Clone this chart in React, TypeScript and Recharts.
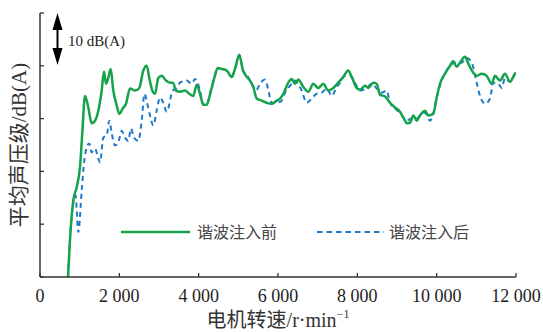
import React from 'react';
import { LineChart, Line, XAxis, YAxis } from 'recharts';

// 谐波注入前 (before injection)
const rpmBefore = [
  706, 756, 839, 925, 1008, 1066, 1134, 1218, 1303, 1387, 1470, 1555, 1613, 1664, 1722, 1782,
  1848, 1934, 1999, 2085, 2168, 2269, 2395, 2503, 2604, 2690, 2755, 2816, 2899, 2982, 3068,
  3176, 3277, 3353, 3429, 3529, 3655, 3764, 3865, 3950, 4034, 4117, 4202, 4303, 4394, 4480,
  4581, 4707, 4833, 4923, 5024, 5118, 5193, 5294, 5377, 5463, 5589, 5715, 5836, 5967, 6050,
  6134, 6260, 6345, 6429, 6512, 6638, 6764, 6890, 7016, 7142, 7268, 7394, 7520, 7646, 7772,
  7858, 7984, 8067, 8193, 8277, 8402, 8488, 8571, 8697, 8824, 8950, 9076, 9202, 9245, 9328,
  9411, 9497, 9580, 9706, 9789, 9915, 10001, 10084, 10210, 10336, 10419, 10505, 10588, 10714,
  10797, 10923, 11009, 11135, 11261, 11387, 11471, 11597, 11723, 11849, 11975, 12000,
];
const dbBefore = [
  0, 7.0, 14.5, 17.0, 20.8, 27.2, 34.3, 32.1, 29.1, 29.6, 31.5, 35.3, 38.9, 36.6, 37.7, 39.4,
  35.3, 32.5, 30.9, 31.9, 32.8, 35.7, 35.3, 35.8, 39.1, 40.0, 37.7, 35.7, 34.7, 37.7, 38.1,
  37.2, 36.8, 36.8, 35.3, 35.1, 35.3, 34.7, 34.3, 36.4, 34.7, 32.6, 32.6, 35.1, 37.7, 39.6,
  39.4, 39.1, 37.9, 39.6, 42.1, 39.1, 38.1, 37.2, 36.0, 33.8, 33.4, 33.0, 32.8, 33.4, 33.8,
  34.7, 36.8, 37.5, 36.6, 37.4, 36.0, 35.1, 36.6, 35.8, 36.6, 35.3, 35.8, 36.8, 37.9, 39.1,
  37.9, 35.8, 35.5, 36.2, 35.8, 36.8, 36.6, 34.5, 34.2, 33.0, 32.1, 31.3, 29.6, 29.1, 29.2,
  30.6, 29.6, 30.6, 31.5, 30.6, 30.9, 34.0, 36.6, 38.5, 40.0, 40.9, 39.8, 40.6, 41.7,
  40.4, 38.7, 38.1, 38.5, 38.1, 36.6, 38.1, 37.2, 38.5, 37.0, 38.5, 38.7,
];

// 谐波注入后 (after injection)
const rpmAfter = [
  706, 756, 839, 895, 966, 1051, 1109, 1177, 1243, 1303, 1387, 1470, 1513, 1596, 1681, 1747,
  1808, 1891, 1974, 2060, 2143, 2226, 2294, 2370, 2478, 2564, 2634, 2705, 2773, 2856, 2942,
  3025, 3108, 3194, 3345, 3446, 3529, 3698, 3824, 3908, 4034, 4117, 4202, 4303, 4394, 4480,
  4581, 4707, 4833, 4923, 5024, 5118, 5193, 5294, 5377, 5445, 5546, 5672, 5748, 5841, 5967,
  6093, 6176, 6302, 6429, 6597, 6723, 6849, 6975, 7102, 7228, 7354, 7480, 7563, 7689, 7815,
  7941, 8067, 8236, 8362, 8488, 8614, 8740, 8824, 8950, 9076, 9245, 9371, 9497, 9580, 9706,
  9832, 9915, 10001, 10127, 10293, 10462, 10631, 10757, 10883, 11009, 11092, 11218, 11345,
  11428, 11554, 11639, 11723, 11849, 11975, 12000,
];
const dbAfter = [
  0, 7.4, 14.0, 15.5, 8.5, 16.4, 21.5, 24.5, 25.3, 23.6, 24.3, 22.5, 21.7, 26.4, 26.8, 29.6,
  27.2, 24.9, 25.5, 27.7, 26.4, 25.8, 28.1, 26.4, 25.8, 29.6, 34.7, 32.8, 30.6, 28.7, 31.5,
  34.0, 33.0, 31.3, 35.3, 35.8, 36.8, 37.2, 36.6, 37.5, 35.3, 32.6, 32.8, 35.1, 37.7, 39.6,
  39.4, 39.1, 37.9, 39.6, 41.9, 39.1, 38.5, 37.2, 36.0, 35.3, 36.6, 37.4, 35.7, 33.0, 33.0,
  33.4, 34.9, 36.2, 37.2, 35.3, 33.0, 33.8, 34.7, 34.9, 35.7, 34.3, 36.0, 36.8, 38.1, 38.1,
  36.8, 35.3, 35.8, 36.6, 35.7, 34.9, 35.3, 33.0, 31.9, 31.1, 29.6, 30.0, 30.0, 30.6, 31.1,
  29.6, 31.1, 34.0, 37.2, 39.6, 40.6, 40.6, 41.5, 40.6, 36.8, 34.3, 32.8, 33.8,
  36.8, 36.6, 35.8, 37.7, 37.0, 38.5, 38.7,
];

const xTicks = [0, 2000, 4000, 6000, 8000, 10000, 12000];
const xTickLabels = ['0', '2 000', '4 000', '6 000', '8 000', '10 000', '12 000'];
const yTicks = [0, 10, 20, 30, 40, 50];

const beforeData = rpmBefore.map((rpm, i) => ({ rpm, db: dbBefore[i] }));
const afterData = rpmAfter.map((rpm, i) => ({ rpm, db: dbAfter[i] }));

const GREEN = '#14a24a';
const BLUE = '#1f79c9';
const AXIS = '#333';
const SERIF = "'Liberation Serif', 'DejaVu Serif', 'Noto Sans CJK SC', serif";

const XTick = ({ x, y, payload }: any) => {
  const idx = xTicks.indexOf(payload.value);
  return (
    <g>
      <line x1={x} y1={y} x2={x} y2={y - 4} stroke={AXIS} strokeWidth={1.3} />
      <text x={x} y={y + 25} textAnchor="middle" fontSize={18} fill="#222" fontFamily={SERIF}>
        {xTickLabels[idx]}
      </text>
    </g>
  );
};

const YTick = ({ x, y }: any) => (
  <line x1={x} y1={y} x2={x + 4} y2={y} stroke={AXIS} strokeWidth={1.3} />
);

export default function App() {
  return (
    <div style={{ position: 'absolute', left: 0, top: 0, width: 543, height: 332 }}>
      <LineChart width={543} height={332} margin={{ top: 13, right: 27, left: 10, bottom: 25 }}>
        <XAxis
          dataKey="rpm"
          type="number"
          domain={[0, 12000]}
          ticks={xTicks}
          height={30}
          tickSize={0}
          tickMargin={0}
          tickLine={false}
          tick={<XTick />}
          stroke={AXIS}
          strokeWidth={1.5}
          allowDataOverflow
        />
        <YAxis
          type="number"
          domain={[0, 50]}
          ticks={yTicks}
          width={30}
          tickSize={0}
          tickMargin={0}
          tickLine={false}
          tick={<YTick />}
          stroke={AXIS}
          strokeWidth={1.5}
          allowDataOverflow
        />
        <Line
          data={afterData}
          dataKey="db"
          type="monotone"
          stroke={BLUE}
          strokeWidth={2}
          strokeDasharray="5 4"
          dot={false}
          isAnimationActive={false}
        />
        <Line
          data={beforeData}
          dataKey="db"
          type="monotone"
          stroke={GREEN}
          strokeWidth={2.5}
          dot={false}
          isAnimationActive={false}
        />
      </LineChart>

      <svg
        width={543}
        height={332}
        style={{ position: 'absolute', left: 0, top: 0, pointerEvents: 'none' }}
      >
        {/* scale bar */}
        <line x1={57.5} y1={28} x2={57.5} y2={50} stroke="#000" strokeWidth={2} />
        <polygon points="57.5,13 52.5,30 62.5,30" fill="#000" />
        <polygon points="57.5,65 52.5,48 62.5,48" fill="#000" />
        <text x={68} y={46} fontSize={15} fill="#222" fontFamily={SERIF}>
          10 dB(A)
        </text>

        {/* y label */}
        <text
          transform="translate(26,145) rotate(-90)"
          textAnchor="middle"
          fontSize={21}
          fill="#333"
          fontFamily={SERIF}
        >
          平均声压级/dB(A)
        </text>

        {/* x label */}
        <text x={278} y={327} textAnchor="middle" fontSize={20} fill="#333" fontFamily={SERIF}>
          电机转速/r·min
          <tspan fontSize={12} dy={-9}>−1</tspan>
        </text>

        {/* legend */}
        <line x1={121} y1={232} x2={190} y2={232} stroke={GREEN} strokeWidth={2.5} />
        <text x={197} y={238} fontSize={16} fill="#444" fontFamily={SERIF}>
          谐波注入前
        </text>
        <line
          x1={317}
          y1={232}
          x2={384}
          y2={232}
          stroke={BLUE}
          strokeWidth={2}
          strokeDasharray="5.5 4"
        />
        <text x={389} y={238} fontSize={16} fill="#444" fontFamily={SERIF}>
          谐波注入后
        </text>
      </svg>
    </div>
  );
}
